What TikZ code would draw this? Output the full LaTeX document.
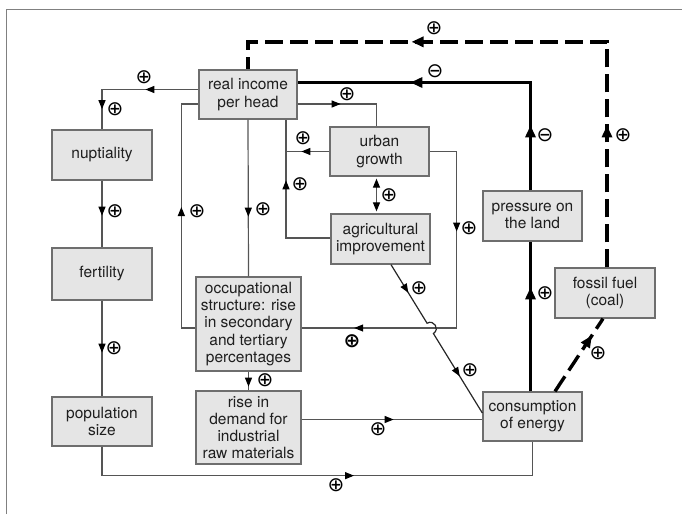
\documentclass[tikz,border=0pt]{standalone}
\usepackage{fontspec}
\setmainfont{TeX Gyre Heros}
\newfontfamily\signfont{DejaVu Sans}
\usetikzlibrary{arrows.meta,decorations.markings,calc}
\definecolor{boxfill}{HTML}{E5E5E5}
\definecolor{boxline}{HTML}{6E6E6E}
\definecolor{linegray}{HTML}{555555}
\definecolor{txt}{HTML}{1E1E1E}
\tikzset{
  Tri/.tip={Triangle[length=9pt,width=7pt,color=black]},
  HTri/.tip={Triangle[length=12pt,width=10pt,color=black]},
  box/.style={draw=boxline, fill=boxfill, line width=1.3pt, align=center, inner sep=0pt,
    text=txt, font=\fontsize{15.5}{17.2}\selectfont},
  conn/.style={draw=linegray, line width=1.2pt},
  connd/.style={draw=black!85, line width=1.2pt},
  heavy/.style={draw=black, line width=3.4pt},
  heavydash/.style={draw=black, line width=3.4pt, dash pattern=on 18pt off 7pt},
  tip/.style={postaction={decorate, decoration={markings, mark=at position #1 with {\arrow{Tri}}}}},
  htip/.style={postaction={decorate, decoration={markings, mark=at position #1 with {\arrow{HTri}}}}},
  sgn/.style={inner sep=0pt, text=black, font=\signfont\fontsize{20}{20}\selectfont},
  sgnb/.style={inner sep=0pt, text=black, font=\signfont\bfseries\fontsize{20}{20}\selectfont},
}
\begin{document}
\begin{tikzpicture}[x=1pt,y=-1pt]
\useasboundingbox (0,0) rectangle (682,514);
% frame
\draw[draw=gray, line width=1.3pt] (6.5,514) -- (6.5,9.3) -- (682,9.3);

% boxes
\node[box, minimum width=98pt, minimum height=49pt] (realinc) at (248,94.5) {real income\\per head};
\node[box, minimum width=100pt, minimum height=50pt] (nupt) at (102,155) {nuptiality};
\node[box, minimum width=100pt, minimum height=52pt] (fert) at (102,274) {fertility};
\node[box, minimum width=100pt, minimum height=49pt] (pop) at (102,421.5) {population\\size};
\node[box, minimum width=105pt, minimum height=94pt] (occ) at (248.5,324) {occupational\\structure: rise\\in secondary\\and tertiary\\percentages};
\node[box, minimum width=105pt, minimum height=73pt] (rise) at (248.5,427.5) {rise in\\demand for\\industrial\\raw materials};
\node[box, minimum width=99pt, minimum height=49pt] (urban) at (379.5,151.5) {urban\\growth};
\node[box, minimum width=99pt, minimum height=50pt] (agri) at (380.5,239) {agricultural\\improvement};
\node[box, minimum width=99pt, minimum height=50pt] (press) at (532.5,216) {pressure on\\the land};
\node[box, minimum width=100pt, minimum height=50pt] (fossil) at (605,293) {fossil fuel\\(coal)};
\node[box, minimum width=99pt, minimum height=49pt] (cons) at (532.5,416.5) {consumption\\of energy};

% thin connectors
\draw[conn, tip=53pt, tip=116pt] ([yshift=5pt]realinc.west) -| (nupt.north);
\draw[conn, tip=35pt] (nupt.south) -- (fert.north);
\draw[conn, tip=52pt] (fert.south) -- (pop.north);
\draw[conn, tip=281pt] (pop.south) -- ++(0,29) -| (cons.south);
\draw[conn, tip=97pt] (realinc.south) -- (occ.north);
\draw[conn, tip=135pt] ([yshift=-4pt]occ.west) -- ++(-14,0) |- ([yshift=-9.5pt]realinc.west);
\draw[conn, tip=43pt] ([yshift=-9.5pt]realinc.east) -| ([xshift=-3pt]urban.north);
\draw[conn, tip=102pt] ([yshift=1pt]agri.west) -| ([xshift=38pt]realinc.south);
\draw[conn, tip=28pt] (urban.west) -- ([xshift=38pt]realinc.south |- urban.west);
\draw[conn, shorten <=2pt, shorten >=2pt, {Tri}-{Tri}] ([xshift=-3pt]urban.south) -- ([xshift=-4pt]agri.north);
\draw[conn, tip=107pt, tip=306pt] (urban.east) -- ++(27,0) |- ([yshift=-4pt]occ.east);
\draw[conn, tip=92pt] ([yshift=8pt]rise.east) -- ([yshift=8pt]rise.east -| cons.west);
\draw[conn, tip=15pt] (occ.south) -- (rise.north);

% agricultural improvement -> consumption, with hop
\coordinate (hA) at ([xshift=10.5pt]agri.south);
\coordinate (hB) at ([yshift=3.5pt]cons.west);
\coordinate (h1) at ($(hA)!0.395!(hB)$);
\coordinate (h2) at ($(hA)!0.464!(hB)$);
\draw[connd, tip=33pt, tip=138pt] (hA) -- (h1)
  .. controls ($(h1)!8pt!90:(h2)$) and ($(h2)!8pt!-90:(h1)$) .. (h2) -- (hB);

% heavy connectors
\draw[heavy, htip=104pt] ([xshift=-2pt]cons.north) -- ([xshift=-2pt]press.south);
\draw[heavy, htip=65pt, htip=228pt] ([xshift=-2pt]press.north) |- ([yshift=12pt]realinc.east);
\draw[heavydash, htip=67pt] ([xshift=22.5pt]cons.north) -- ([xshift=-2pt]fossil.south);
\draw[heavydash, htip=142pt, htip=421pt] ([xshift=2pt]fossil.north) |- ([yshift=27.5pt]realinc.north) -- (realinc.north);

% signs
\node[sgn] (s1) at (144,77) {⊕};
\node[sgn] (s2) at (115,109) {⊕};
\node[sgn] (s3) at (115,211) {⊕};
\node[sgn] (s4) at (114,348) {⊕};
\node[sgn] (s5) at (336,485) {⊕};
\node[sgn] (s6) at (263,209) {⊕};
\node[sgn] (s7) at (197,211) {⊕};
\node[sgn] (s8) at (347,94) {⊕};
\node[sgn] (s9) at (303,138) {⊕};
\node[sgn] (s10) at (300,184) {⊕};
\node[sgn] (s11) at (389,195) {⊕};
\node[sgn] (s12) at (469,228) {⊕};
\node[sgnb] (s13) at (352,341) {⊕};
\node[sgn] (s14) at (419,288) {⊕};
\node[sgn] (s15) at (470,370) {⊕};
\node[sgn] (s16) at (378,429) {⊕};
\node[sgn] (s17) at (265,380) {⊕};
\node[sgn] (s18) at (545,293) {⊕};
\node[sgn] (s19) at (545,135) {⊖};
\node[sgn] (s20) at (435,71) {⊖};
\node[sgn] (s21) at (598,353) {⊕};
\node[sgn] (s22) at (623,135) {⊕};
\node[sgn] (s23) at (434,28) {⊕};
\end{tikzpicture}
\end{document}
